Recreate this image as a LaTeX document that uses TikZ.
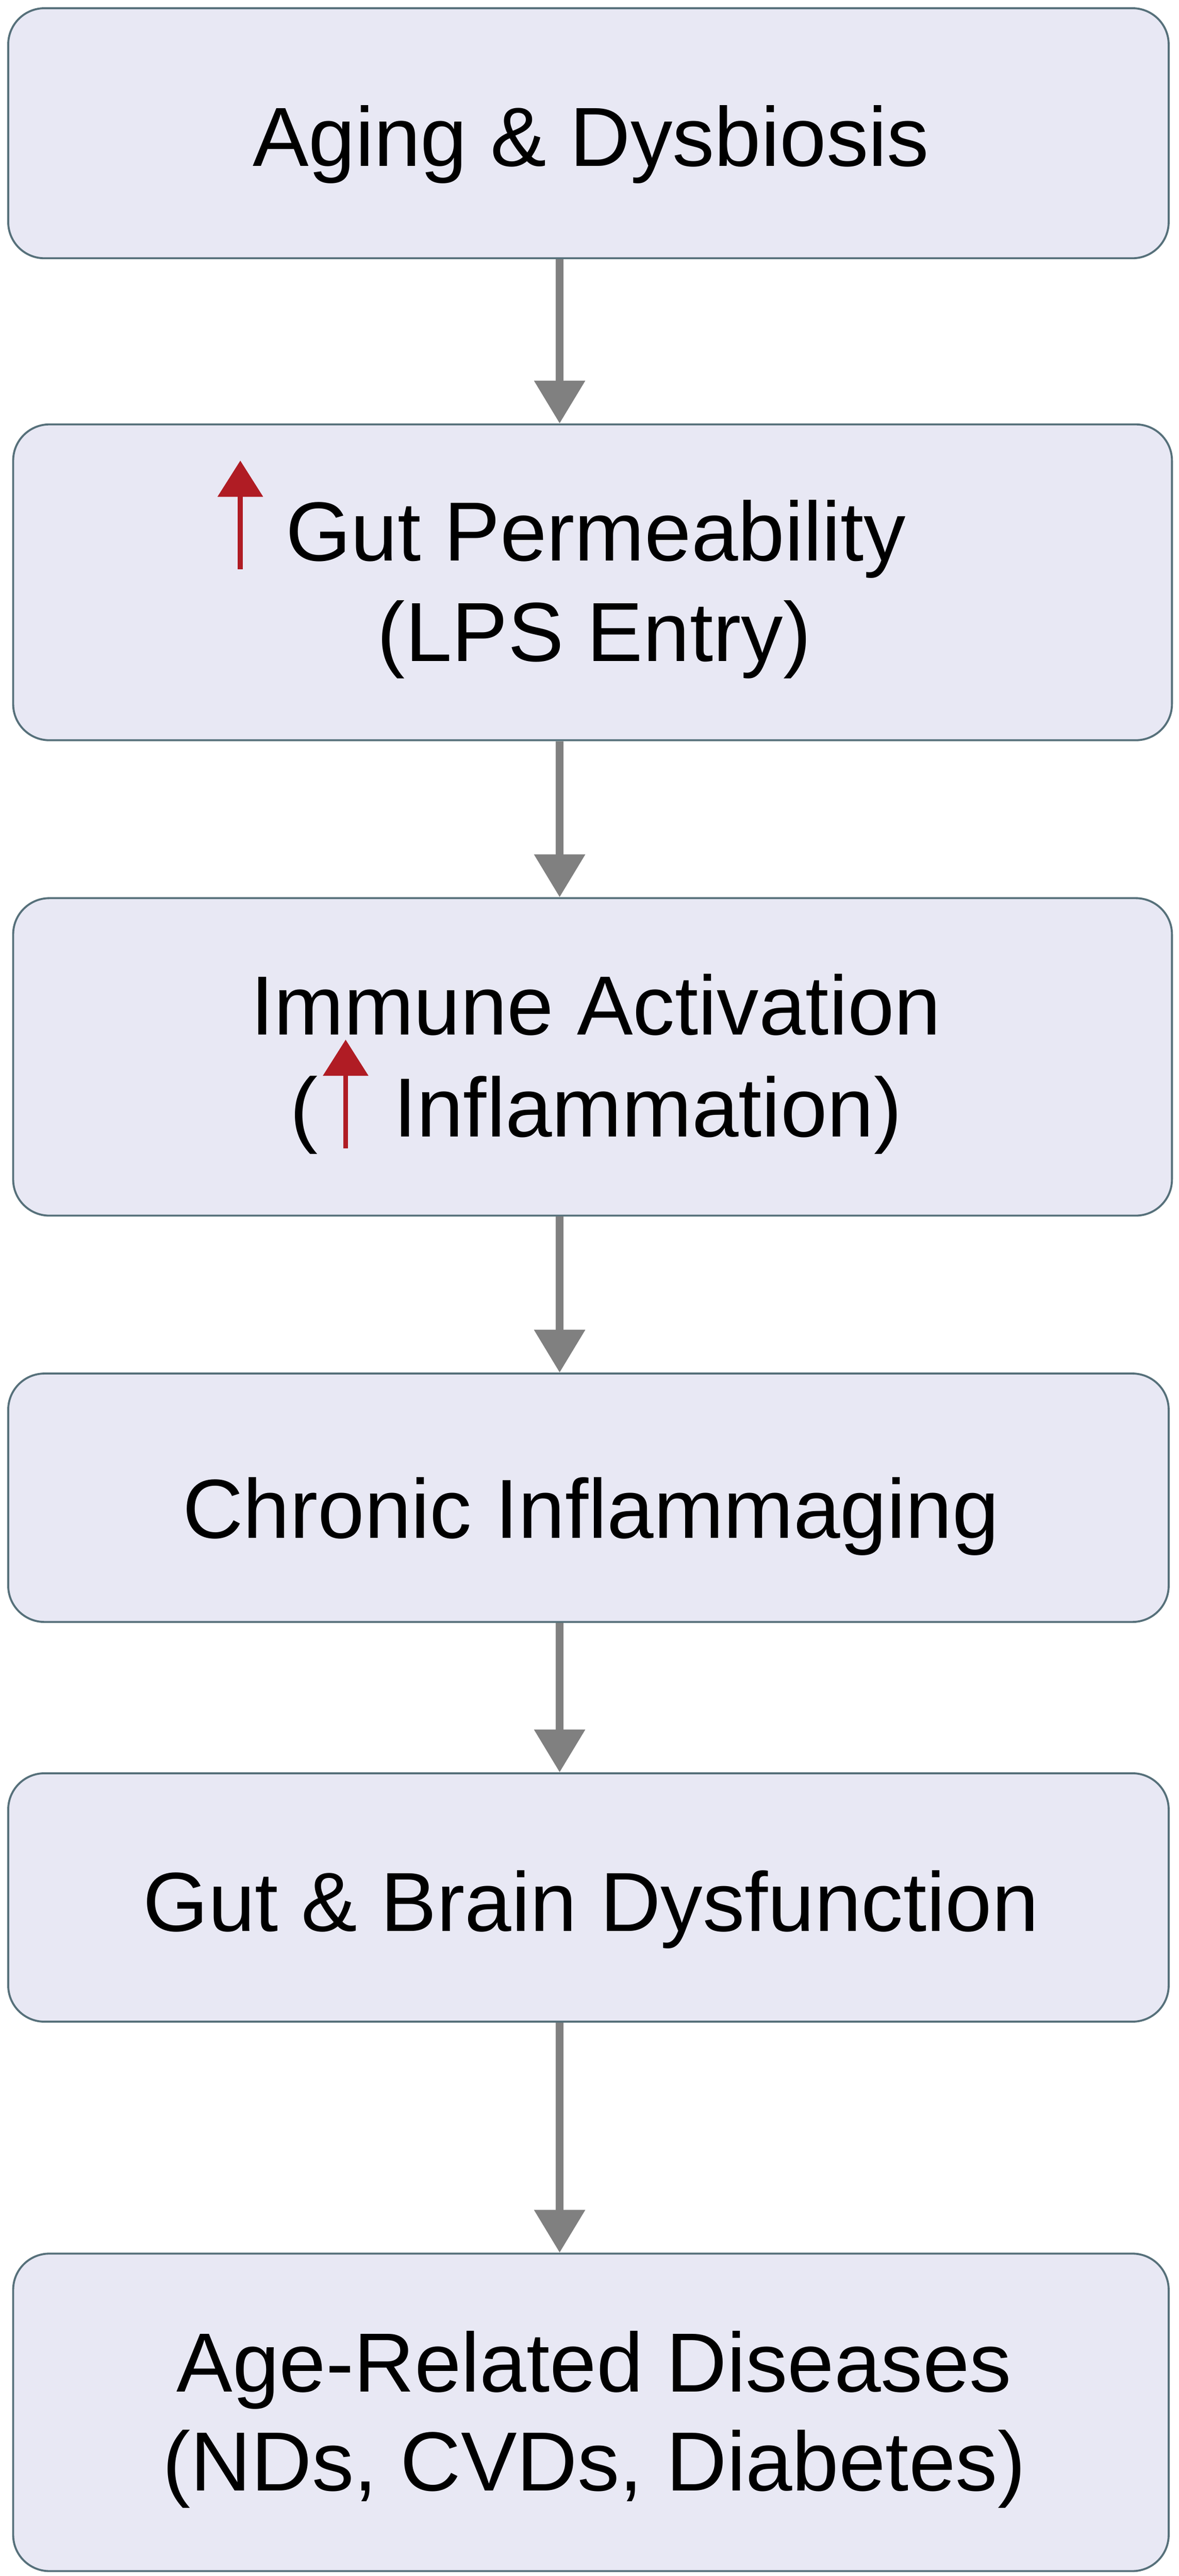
\documentclass[tikz,border=0pt]{standalone}
\usepackage{fontspec}
\setmainfont{Liberation Sans}
\usetikzlibrary{arrows.meta}
\definecolor{boxfill}{HTML}{E8E8F4}
\definecolor{boxdraw}{HTML}{56707A}
\definecolor{arr}{HTML}{808080}
\definecolor{redup}{HTML}{B01C24}
\begin{document}
\begin{tikzpicture}[x=1pt,y=-1pt,
  box/.style={draw=boxdraw,fill=boxfill,line width=1.2pt,rounded corners=22pt,inner sep=0pt},
  txt/.style={font=\fontsize{51}{60}\selectfont,inner sep=0pt,anchor=base},
  flow/.style={draw=arr,line width=4.5pt,-{Triangle[length=26pt,width=30pt]}},
  up/.style={draw=redup,line width=3pt,-{Triangle[length=22pt,width=27pt]}}]
\useasboundingbox (0,0) rectangle (716,1566);
\node[box,minimum width=705pt,minimum height=152pt] (b1) at (357.5,81) {};
\node[box,minimum width=704pt,minimum height=192pt] (b2) at (360,354) {};
\node[box,minimum width=704pt,minimum height=193pt] (b3) at (360,642.5) {};
\node[box,minimum width=705pt,minimum height=151pt] (b4) at (357.5,910.5) {};
\node[box,minimum width=705pt,minimum height=151pt] (b5) at (357.5,1153.5) {};
\node[box,minimum width=702pt,minimum height=193pt] (b6) at (359,1466.5) {};
\node[txt] (t1) at (359,101) {Aging \& Dysbiosis};
\node[txt] (t2a) at (362,341) {Gut Permeability};
\node[txt] (t2b) at (361,402) {(LPS Entry)};
\coordinate (u2a) at (146,346); \coordinate (u2b) at (146,280);
\draw[up] (u2a) -- (u2b);
\node[txt] (t3a) at (362,629) {Immune Activation};
\node[txt] (t3b) at (362,691) {(\hspace{46pt}Inflammation)};
\coordinate (u3a) at (210,698); \coordinate (u3b) at (210,632);
\draw[up] (u3a) -- (u3b);
\node[txt] (t4) at (359,935) {Chronic Inflammaging};
\node[txt] (t5) at (359,1174) {Gut \& Brain Dysfunction};
\node[txt] (t6a) at (361,1454) {Age-Related Diseases};
\node[txt] (t6b) at (361,1514) {(NDs, CVDs, Diabetes)};
\draw[flow] (b1.south -| 340,0) -- (b2.north -| 340,0);
\draw[flow] (b2.south -| 340,0) -- (b3.north -| 340,0);
\draw[flow] (b3.south -| 340,0) -- (b4.north -| 340,0);
\draw[flow] (b4.south -| 340,0) -- (b5.north -| 340,0);
\draw[flow] (b5.south -| 340,0) -- (b6.north -| 340,0);
\end{tikzpicture}
\end{document}
